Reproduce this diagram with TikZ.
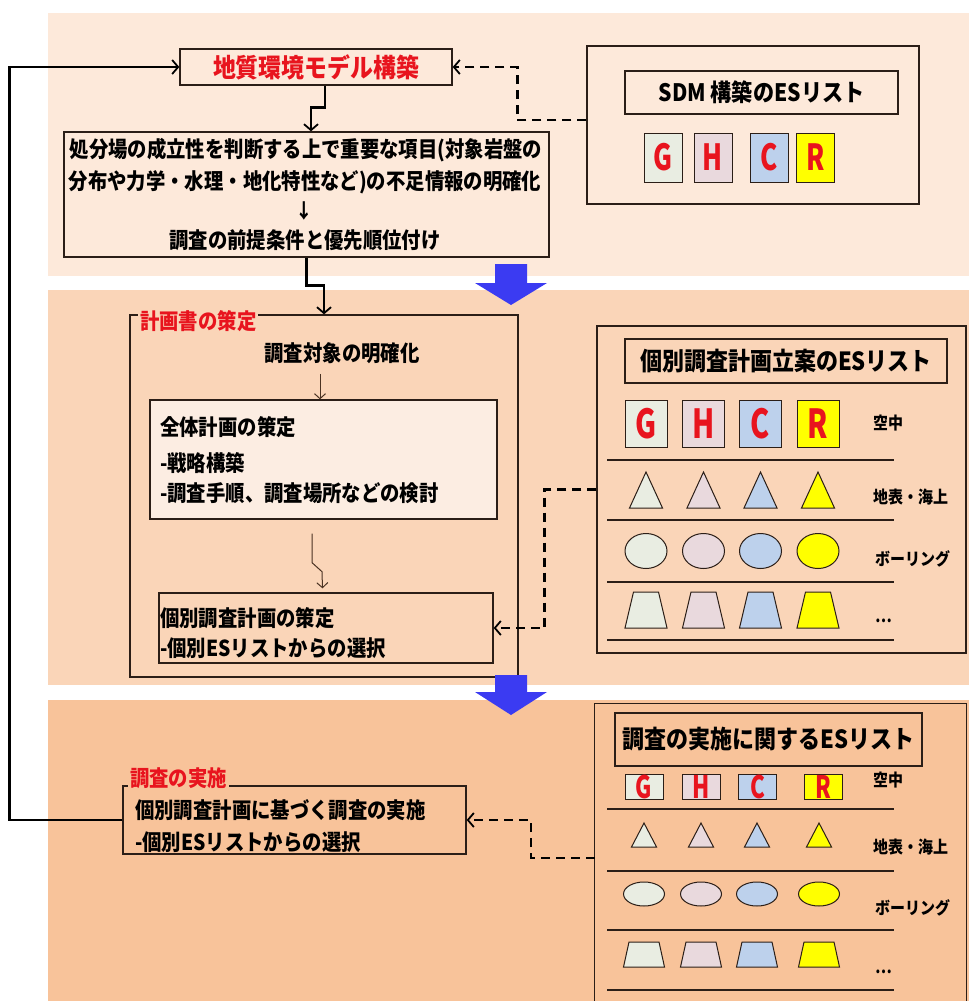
\documentclass[tikz,border=0pt]{standalone}
\usepackage{fontspec}
\newfontfamily\jp[FakeStretch=0.88]{Noto Sans CJK JP}
\newfontfamily\lat[FakeStretch=0.72]{Noto Sans CJK JP}
\usetikzlibrary{arrows.meta,calc}
\definecolor{bandA}{HTML}{FDE9DA}
\definecolor{bandB}{HTML}{FAD5B8}
\definecolor{bandC}{HTML}{F8C39A}
\definecolor{cG}{HTML}{E9EDE2}
\definecolor{cH}{HTML}{E9D9DD}
\definecolor{cC}{HTML}{BDD1EC}
\definecolor{cR}{HTML}{FFFF00}
\definecolor{ink}{HTML}{2B1E17}
\definecolor{thinink}{HTML}{4A3222}
\definecolor{blueA}{HTML}{3B3BF2}
\definecolor{redT}{HTML}{E8141E}
\definecolor{innerfill}{HTML}{FCEDE2}
\begin{document}
\begin{tikzpicture}[x=1pt,y=-1pt,
  box/.style={draw=ink,line width=1.3pt,inner sep=0pt},
  txt/.style={inner sep=0pt,text=black,font=\jp\bfseries\fontsize{22}{26}\selectfont},
  redlbl/.style={inner sep=2pt,text=redT,font=\jp\bfseries\fontsize{22}{26}\selectfont},
  esttl/.style={txt,font=\jp\bfseries\fontsize{25}{30}\selectfont},
  rowlbl/.style={txt,anchor=west,font=\jp\bfseries\fontsize{17}{20}\selectfont},
  conn/.style={draw=black,line width=2.6pt,-{Straight Barb[length=6pt,width=14pt,line width=1.8pt]}},
  dconn/.style={conn,dash pattern=on 9pt off 6pt},
  tconn/.style={draw=thinink,line width=1pt,-{Straight Barb[length=5pt,width=11pt,line width=1pt]}},
  shp/.style={draw=ink,line width=1pt},
  sep/.style={draw=ink,line width=1.3pt},
  letter/.style={box,line width=1pt,text=redT},
  blue arrow/.style={fill=blueA}
]
\useasboundingbox (0,0) rectangle (969,1001);
% bands
\fill[bandA] (48,13) rectangle (969,276);
\fill[bandB] (48,290) rectangle (969,685);
\fill[bandC] (48,700) rectangle (969,1001);

% ---------- top band ----------
\node[box,minimum width=272pt,minimum height=36pt,text=redT,
      font=\jp\bfseries\fontsize{26}{30}\selectfont] (title) at (316,67) {地質環境モデル構築};
\node[box,minimum width=485pt,minimum height=125pt] (cond) at (306.5,194.5) {};
\node[txt] (c1) at (306,150) {処分場の成立性を判断する上で重要な項目(対象岩盤の};
\node[txt] (c2) at (305,182) {分布や力学・水理・地化特性など)の不足情報の明確化};
\node[txt,font=\jp\bfseries\fontsize{20}{22}\selectfont] (c3) at (304,211) {↓};
\node[txt] (c4) at (305,240) {調査の前提条件と優先順位付け};

\node[box,minimum width=332pt,minimum height=158pt] (es1) at (753,125) {};
\node[box,minimum width=273pt,minimum height=43pt,txt,font=\jp\bfseries\fontsize{24}{28}\selectfont] (es1t) at (761.5,92.5) {SDM 構築のESリスト};
\foreach \x/\c/\l in {663/cG/G,713/cH/H,769/cC/C,815.5/cR/R}
  \node[letter,fill=\c,minimum width=38pt,minimum height=49pt,font=\lat\bfseries\fontsize{36}{40}\selectfont] (es1\l) at (\x,157.5) {\l};

\draw[conn] ([xshift=9pt]title.south) -- ++(0,22) -| ([xshift=4.5pt]cond.north);
\draw[dconn] ([yshift=5pt]es1.west) -- ++(-69,0) |- (title.east);

% ---------- middle band ----------
\node[box,minimum width=388pt,minimum height=362pt] (plan) at (324,496) {};
\node[redlbl,fill=bandB,anchor=west] (planl) at (138,321) {計画書の策定};
\node[txt] (tgt) at (342,353) {調査対象の明確化};
\node[box,fill=innerfill,minimum width=347pt,minimum height=119pt] (whole) at (323.5,459.5) {};
\node[txt,anchor=west] (w1) at (160,427) {全体計画の策定};
\node[txt,anchor=west] (w2) at (160,463) {-戦略構築};
\node[txt,anchor=west] (w3) at (160,493) {-調査手順、調査場所などの検討};
\node[box,minimum width=334pt,minimum height=70pt] (indiv) at (326,628) {};
\node[txt,anchor=west] (i1) at (160,618) {個別調査計画の策定};
\node[txt,anchor=west] (i2) at (160,648) {-個別ESリストからの選択};

\draw[conn] (cond.south) -- ++(0,28) -| (plan.north);
\draw[tconn] ([xshift=-22pt,yshift=-10pt]tgt.south) -- ([xshift=-3.5pt]whole.north);
\draw[tconn] ([xshift=-11.5pt,yshift=-14pt]whole.south) -- ++(0,29) -- ++(10,9) -- ([xshift=-3.5pt,yshift=4pt]indiv.north);

\node[box,minimum width=369pt,minimum height=327pt] (es2) at (781.5,489.5) {};
\node[box,minimum width=322pt,minimum height=44pt,esttl] (es2t) at (786,361) {個別調査計画立案のESリスト};
\foreach \x/\c/\l in {646/cG/G,703.5/cH/H,760.5/cC/C,818/cR/R}{
  \node[letter,fill=\c,minimum width=42pt,minimum height=47pt,font=\lat\bfseries\fontsize{40}{44}\selectfont] (es2\l) at (\x,423.5) {\l};
  \filldraw[shp,fill=\c] ({\x-16.5},508) -- (\x,472) -- ({\x+16.5},508) -- cycle;
  \filldraw[shp,fill=\c] (\x,551) ellipse [x radius=21pt,y radius=17.5pt];
  \filldraw[shp,fill=\c] ({\x-21},628) -- ({\x-12.5},592) -- ({\x+12.5},592) -- ({\x+21},628) -- cycle;
}
\foreach \y in {460,520,582,640} \draw[sep] (607,\y) -- (894,\y);
\node[rowlbl] (r21) at (873,423) {空中};
\node[rowlbl] (r22) at (873,497) {地表・海上};
\node[rowlbl] (r23) at (875,559) {ボーリング};
\node[rowlbl] (r24) at (875,621) {…};

\draw[dconn] (es2.west) -- ++(-52,0) |- (indiv.east);

% ---------- bottom band ----------
\node[box,minimum width=343pt,minimum height=68pt] (impl) at (294.5,820) {};
\node[redlbl,fill=bandC,anchor=west] (impll) at (128,778) {調査の実施};
\node[txt,anchor=west] (m1) at (135,810) {個別調査計画に基づく調査の実施};
\node[txt,anchor=west] (m2) at (135,842) {-個別ESリストからの選択};

\node[minimum width=371pt,minimum height=297pt,inner sep=0pt] (es3) at (780.5,852.5) {};
\draw[box] (es3.south west) -- (es3.north west) -- (es3.north east) -- (es3.south east);
\node[box,minimum width=307pt,minimum height=53pt,esttl] (es3t) at (768.5,739.5) {調査の実施に関するESリスト};
\foreach \x/\c/\l in {644/cG/G,701/cH/H,757.5/cC/C,823/cR/R}
  \node[letter,fill=\c,minimum width=38pt,minimum height=25pt,font=\lat\bfseries\fontsize{31}{31}\selectfont] (es3\l) at (\x,786.5) {\l};
\foreach \x/\c in {644/cG,701/cH,757/cC,819/cR}{
  \filldraw[shp,fill=\c] ({\x-12.5},847) -- (\x,823) -- ({\x+12.5},847) -- cycle;
  \filldraw[shp,fill=\c] (\x,894) ellipse [x radius=20.5pt,y radius=12pt];
  \filldraw[shp,fill=\c] ({\x-20.5},967) -- ({\x-15},942) -- ({\x+15},942) -- ({\x+20.5},967) -- cycle;
}
\foreach \y in {809,871,930,990} \draw[sep] (607,\y) -- (894,\y);
\node[rowlbl] (r31) at (873,780) {空中};
\node[rowlbl] (r32) at (873,847) {地表・海上};
\node[rowlbl] (r33) at (875,908) {ボーリング};
\node[rowlbl] (r34) at (875,972) {…};

\draw[dconn] ([yshift=-5.5pt]es3.west) -- ++(-64,0) |- (impl.east);
\draw[conn] (impl.west) -- ++(-113,0) |- (title.west);

% blue arrows
\fill[blue arrow] (495,264) -- (527,264) -- (527,283) -- (547,283) -- (511,305) -- (475,283) -- (495,283) -- cycle;
\fill[blue arrow] (495,675) -- (527,675) -- (527,692) -- (547,692) -- (511,715) -- (475,692) -- (495,692) -- cycle;
\end{tikzpicture}
\end{document}
